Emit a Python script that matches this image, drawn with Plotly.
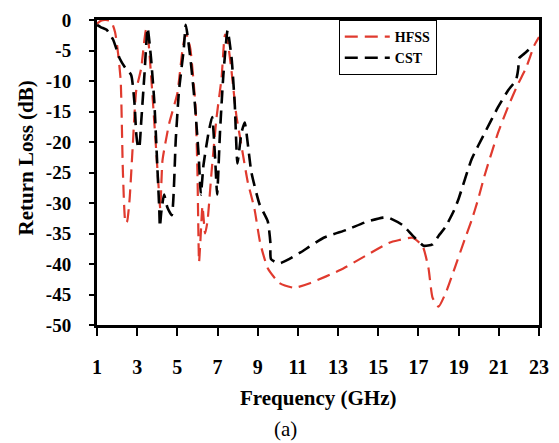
import plotly.graph_objects as go

# HFSS simulated return loss
hfss_freq = [1.0, 1.2, 1.45, 1.7, 1.9, 2.05, 2.18, 2.29, 2.42, 2.5, 2.62, 2.78, 2.95, 3.2, 3.44, 3.5,
             3.69, 3.93, 4.1, 4.15, 4.26, 4.59, 5.0, 5.24, 5.4, 5.5, 5.65, 5.9, 6.0, 6.08, 6.15, 6.25,
             6.38, 6.5, 6.7, 6.95, 7.2, 7.37, 7.5, 7.7, 7.93, 8.19, 8.5, 8.84, 9.12, 9.5, 10.07, 10.81,
             11.63, 13.1, 14.4, 15.55, 16.0, 16.7, 17.2, 17.5, 17.7, 18.0, 18.4, 18.8, 19.3, 19.65,
             19.96, 20.3, 20.96, 21.45, 21.94, 22.35, 22.76, 23.0]
hfss_rl = [-0.6, -0.1, 0.0, -0.2, -2.0, -5.5, -10.0, -25.0, -33.3, -33.0, -29.5, -20.6, -11.6, -7.9, -1.6, -1.8,
           -9.0, -20.6, -29.0, -31.0, -23.0, -17.0, -12.0, -5.3, -2.5, -2.7, -4.8, -14.0, -25.0, -39.7, -36.0, -30.5,
           -35.0, -33.0, -25.0, -16.0, -9.5, -2.4, -3.5, -8.5, -15.5, -20.6, -26.5, -31.0, -36.5, -40.7, -43.1, -43.9,
           -43.1, -41.0, -38.6, -36.5, -36.1, -35.7, -37.0, -40.7, -45.5, -47.0, -44.4, -40.7, -36.0, -32.8,
           -29.5, -25.4, -18.5, -14.3, -10.6, -7.9, -4.2, -2.8]

# CST simulated return loss
cst_freq = [1.0, 1.2, 1.48, 1.8, 2.13, 2.4, 2.7, 2.87, 2.95, 3.03, 3.1, 3.2, 3.36, 3.52, 3.69, 3.85,
            4.0, 4.1, 4.13, 4.2, 4.34, 4.5, 4.72, 4.92, 5.08, 5.32, 5.42, 5.65, 5.86, 6.06, 6.17, 6.3,
            6.55, 6.73, 6.88, 6.98, 7.12, 7.29, 7.5, 7.7, 7.86, 7.99, 8.19, 8.35, 8.68, 9.09, 9.5, 9.63,
            9.66, 10.07, 10.56, 11.13, 12.28, 13.43, 14.4, 15.23, 15.5, 16.2, 16.7, 17.25, 17.7, 18.0,
            18.35, 18.8, 19.0, 19.65, 20.3, 20.96, 21.45, 21.86, 21.97, 22.0, 22.35, 22.7]
cst_rl = [-0.8, -1.2, -1.6, -3.2, -6.3, -7.8, -9.0, -13.8, -18.5, -20.6, -21.0, -16.7, -9.0, -1.3, -6.3, -13.3,
          -23.8, -31.0, -33.9, -31.5, -28.6, -30.7, -32.0, -19.6, -11.6, -4.7, -0.8, -6.3, -13.3, -22.2, -28.6, -23.8,
          -18.5, -15.9, -22.7, -28.6, -18.5, -9.0, -1.7, -6.3, -14.0, -23.5, -18.5, -16.8, -24.9, -30.2, -33.0, -36.5,
          -39.2, -39.9, -39.2, -38.1, -35.7, -34.4, -33.1, -32.4, -32.4, -33.6, -35.3, -37.0, -36.8, -35.4,
          -33.9, -31.0, -29.3, -22.8, -18.5, -14.3, -11.6, -9.8, -7.9, -6.3, -5.3, -4.2]

x_ticks = [1, 3, 5, 7, 9, 11, 13, 15, 17, 19, 21, 23]
y_ticks = [0, -5, -10, -15, -20, -25, -30, -35, -40, -45, -50]

SERIF = "Liberation Serif, Times New Roman, serif"

fig = go.Figure()
fig.add_trace(go.Scatter(x=hfss_freq, y=hfss_rl, mode="lines", name="HFSS",
                         line=dict(color="#E03A2E", width=2.2, dash="13px,7px", shape="spline", smoothing=0.5)))
fig.add_trace(go.Scatter(x=cst_freq, y=cst_rl, mode="lines", name="CST",
                         line=dict(color="black", width=2.6, dash="13px,7px", shape="spline", smoothing=0.5)))

fig.update_layout(
    width=559, height=443,
    margin=dict(l=97, r=14, t=10, b=118),
    paper_bgcolor="white", plot_bgcolor="white",
    showlegend=True,
    legend=dict(x=0.547, y=1.0, xanchor="left", yanchor="top",
                bgcolor="white", bordercolor="black", borderwidth=1,
                itemwidth=45,
                font=dict(family=SERIF, size=14, color="black", weight="bold")),
    xaxis=dict(range=[1, 23], tickvals=x_ticks, ticktext=[str(v) for v in x_ticks],
               showgrid=False, zeroline=False,
               showline=True, linecolor="black", linewidth=3, mirror=True,
               ticks="outside", ticklen=8, tickwidth=1.5, tickcolor="black",
               ticklabelstandoff=14,
               tickfont=dict(family=SERIF, size=20, color="black", weight="bold")),
    yaxis=dict(range=[-50, 0], tickvals=y_ticks, ticktext=[str(v) for v in y_ticks],
               showgrid=False, zeroline=False,
               showline=True, linecolor="black", linewidth=3, mirror=True,
               ticks="outside", ticklen=5, tickwidth=1.5, tickcolor="black",
               ticklabelstandoff=14,
               tickfont=dict(family=SERIF, size=19, color="black", weight="bold")),
    annotations=[
        dict(text="<b>Frequency (GHz)</b>", xref="paper", yref="paper", x=0.5, y=-0.238,
             xanchor="center", yanchor="middle", showarrow=False,
             font=dict(family=SERIF, size=21, color="black")),
        dict(text="<b>Return Loss (dB)</b>", xref="paper", yref="paper", x=-0.161, y=0.549,
             xanchor="center", yanchor="middle", showarrow=False, textangle=-90,
             font=dict(family=SERIF, size=21, color="black")),
        dict(text="(a)", xref="paper", yref="paper", x=0.427, y=-0.34,
             xanchor="center", yanchor="middle", showarrow=False,
             font=dict(family=SERIF, size=21, color="black")),
    ],
)

fig.write_html("out.html")
